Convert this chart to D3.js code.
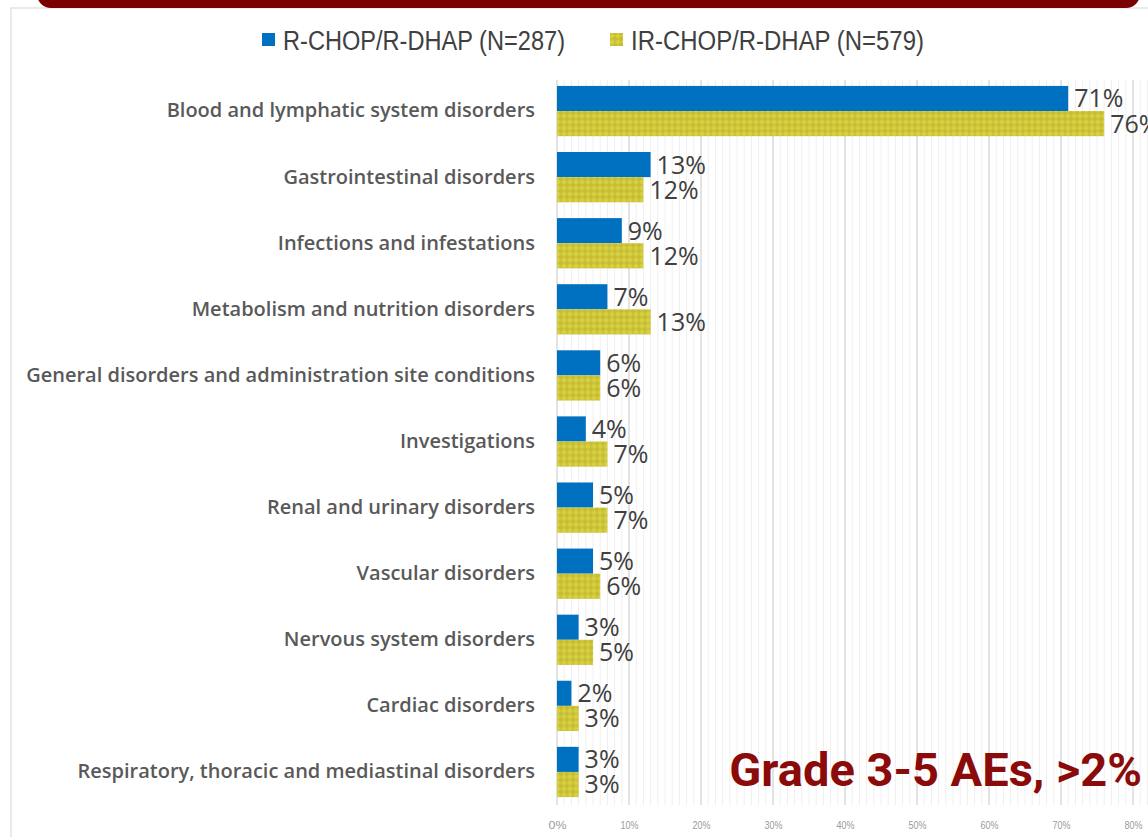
<!DOCTYPE html>
<html>
<head>
<meta charset="utf-8">
<script src="https://cdn.jsdelivr.net/npm/d3@7"></script>
<style>
  body { margin: 0; background: #fff; }
  svg { display: block; }
</style>
</head>
<body>
<script>
// chart values
const categories = [
  "Blood and lymphatic system disorders",
  "Gastrointestinal disorders",
  "Infections and infestations",
  "Metabolism and nutrition disorders",
  "General disorders and administration site conditions",
  "Investigations",
  "Renal and urinary disorders",
  "Vascular disorders",
  "Nervous system disorders",
  "Cardiac disorders",
  "Respiratory, thoracic and mediastinal disorders"
];
const seriesNames = ["R-CHOP/R-DHAP (N=287)", "IR-CHOP/R-DHAP (N=579)"];
const rchop = [71, 13, 9, 7, 6, 4, 5, 5, 3, 2, 3];
const irchop = [76, 12, 12, 13, 6, 7, 7, 6, 5, 3, 3];
const xTicks = [0, 10, 20, 30, 40, 50, 60, 70, 80];
const title = "Grade 3-5 AEs, >2%";

const width = 1148, height = 837;

const rows = categories.map((c, i) => ({ cat: c, values: [rchop[i], irchop[i]] }));

const svg = d3.select("body").append("svg")
    .attr("width", width)
    .attr("height", height);

// hatch pattern for the second series
const defs = svg.append("defs");
const pat = defs.append("pattern")
    .attr("id", "checker")
    .attr("patternUnits", "userSpaceOnUse")
    .attr("width", 6)
    .attr("height", 6);
pat.append("rect").attr("width", 6).attr("height", 6).attr("fill", "#d7d03e");
pat.append("path")
    .attr("d", "M3,0 L6,3 L3,6 L0,3 Z")
    .attr("fill", "#c6bc36");

// slide frame + top banner
svg.append("rect")
    .attr("x", 11).attr("y", 8)
    .attr("width", 1200).attr("height", 900)
    .attr("fill", "none")
    .attr("stroke", "#e3e3e3")
    .attr("stroke-width", 1.5);

svg.append("rect")
    .attr("x", 37).attr("y", -30)
    .attr("width", 1103).attr("height", 38)
    .attr("rx", 14)
    .attr("fill", "#7b0000");

// scales
const x = d3.scaleLinear().domain([0, 80]).range([557, 1133]);

const y = d3.scaleBand()
    .domain(categories)
    .range([78, 805])
    .paddingInner(0.24)
    .paddingOuter(0.12);

const ySub = d3.scaleBand()
    .domain([0, 1])
    .range([0, y.bandwidth()]);

const fills = ["#0070c0", "url(#checker)"];

// gridlines: minor every 1%, major every 10%
const grid = svg.append("g");
grid.selectAll("line")
    .data(d3.range(0, 83))
    .join("line")
    .attr("x1", d => x(d)).attr("x2", d => x(d))
    .attr("y1", 80).attr("y2", 805)
    .attr("stroke", d => d % 10 === 0 ? "#dadada" : "#efefef")
    .attr("stroke-width", d => d % 10 === 0 ? 1.5 : 1);

// x axis labels
const xAxis = svg.append("g")
    .attr("transform", "translate(0,818)")
    .call(d3.axisBottom(x).tickValues(xTicks).tickFormat(d => d + "%").tickSize(0));
xAxis.select(".domain").remove();
xAxis.selectAll("text")
    .attr("fill", "#9a9a9a")
    .attr("textLength", 18)
    .attr("lengthAdjust", "spacingAndGlyphs")
    .style("font-family", "'Liberation Sans', sans-serif")
    .style("font-size", "11px");

// category labels
const yAxis = svg.append("g")
    .attr("transform", "translate(535,0)")
    .call(d3.axisLeft(y).tickSize(0).tickPadding(0));
yAxis.select(".domain").remove();
yAxis.selectAll("text")
    .attr("fill", "#595959")
    .style("font-family", "'Open Sans', sans-serif")
    .style("font-weight", 600)
    .style("font-size", "20px");

// bars
const groups = svg.append("g")
    .selectAll("g")
    .data(rows)
    .join("g")
    .attr("transform", d => `translate(0,${y(d.cat)})`);

groups.selectAll("rect")
    .data(d => d.values)
    .join("rect")
    .attr("x", x(0))
    .attr("y", (d, i) => ySub(i))
    .attr("width", d => x(d) - x(0))
    .attr("height", ySub.bandwidth())
    .attr("fill", (d, i) => fills[i]);

groups.selectAll("text")
    .data(d => d.values)
    .join("text")
    .attr("x", d => x(d) + 6)
    .attr("y", (d, i) => ySub(i) + ySub.bandwidth() / 2)
    .attr("dy", "0.36em")
    .attr("fill", "#404040")
    .style("font-family", "'Open Sans', sans-serif")
    .style("font-size", "25px")
    .text(d => d + "%");

// legend (squeezed to look like the condensed slide font)
const legend = svg.append("g");
const legendX = [262, 610];
const legendW = [282, 293];
seriesNames.forEach((name, i) => {
  legend.append("rect")
      .attr("x", legendX[i]).attr("y", 33)
      .attr("width", 13).attr("height", 13)
      .attr("fill", fills[i]);
  legend.append("text")
      .attr("x", legendX[i] + 21).attr("y", 40)
      .attr("dy", "0.36em")
      .attr("fill", "#404040")
      .attr("textLength", legendW[i])
      .attr("lengthAdjust", "spacingAndGlyphs")
      .style("font-family", "'Liberation Sans', sans-serif")
      .style("font-size", "27px")
      .text(name);
});

// overlay title
svg.append("text")
    .attr("x", 1142).attr("y", 786)
    .attr("text-anchor", "end")
    .attr("fill", "#8b0a0a")
    .style("font-family", "Roboto, sans-serif")
    .style("font-weight", 700)
    .style("font-size", "47px")
    .text(title);
</script>
</body>
</html>
